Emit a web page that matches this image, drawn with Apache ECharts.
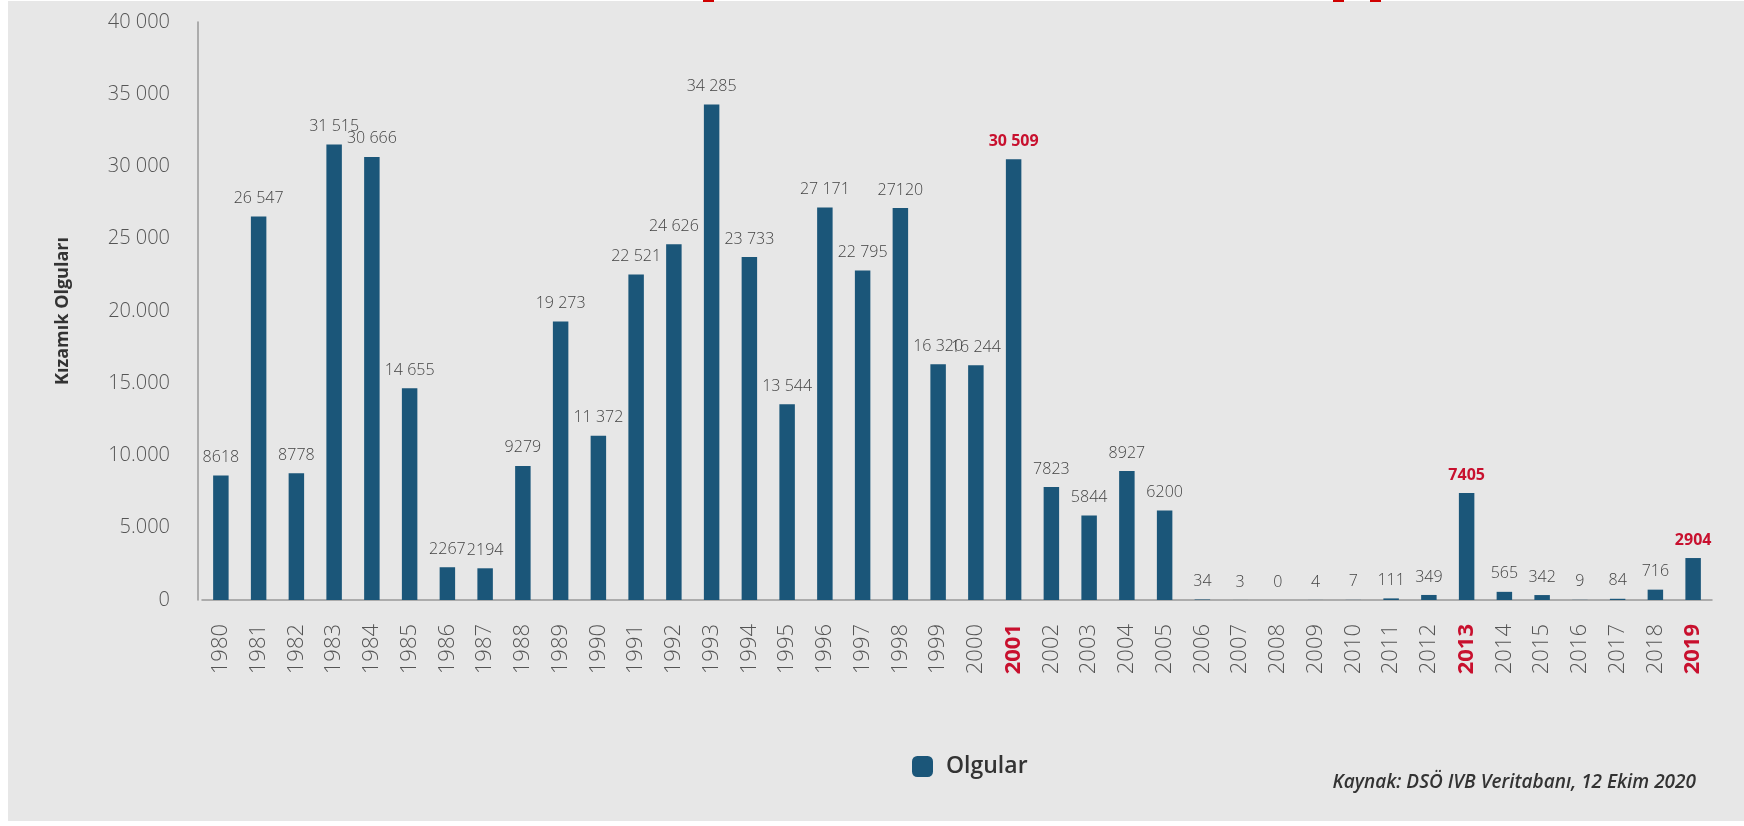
<!DOCTYPE html>
<html><head><meta charset="utf-8">
<script src="https://cdn.jsdelivr.net/npm/echarts@6/dist/echarts.min.js"></script>
<style>html,body{margin:0;padding:0;background:#fff}#c{width:1744px;height:826px}</style>
</head><body><div id="c"></div>
<script>
const years = ['1980','1981','1982','1983','1984','1985','1986','1987','1988','1989','1990','1991','1992','1993','1994','1995','1996','1997','1998','1999','2000','2001','2002','2003','2004','2005','2006','2007','2008','2009','2010','2011','2012','2013','2014','2015','2016','2017','2018','2019'];
const cases = [8618,26547,8778,31515,30666,14655,2267,2194,9279,19273,11372,22521,24626,34285,23733,13544,27171,22795,27120,16320,16244,30509,7823,5844,8927,6200,34,3,0,4,7,111,349,7405,565,342,9,84,716,2904];
const valueLabels = ['8618','26 547','8778','31 515','30 666','14 655','2267','2194','9279','19 273','11 372','22 521','24 626','34 285','23 733','13 544','27 171','22 795','27120','16 320','16 244','30 509','7823','5844','8927','6200','34','3','0','4','7','111','349','7405','565','342','9','84','716','2904'];
const highlightYears = ['2001','2013','2019'];
const yTickLabels = {0:'0',5000:'5.000',10000:'10.000',15000:'15.000',20000:'20.000',25000:'25 000',30000:'30 000',35000:'35 000',40000:'40 000'};

const RED = '#c8102e';
const BAR = '#1b5679';
const chart = echarts.init(document.getElementById('c'));
chart.setOption({
  backgroundColor: '#fff',
  graphic: [
    {type:'rect', shape:{x:8,y:1,width:1736,height:820}, style:{fill:'#e7e7e7'}, z:-10},
    {type:'rect', shape:{x:703,y:0,width:11,height:2}, style:{fill:'#d00000'}},
    {type:'rect', shape:{x:1333,y:0,width:11,height:2}, style:{fill:'#d00000'}},
    {type:'rect', shape:{x:1370,y:0,width:11,height:2}, style:{fill:'#d00000'}},
    {type:'text', right:48, top:773, style:{text:'Kaynak: DSÖ IVB Veritabanı, 12 Ekim 2020', font:'italic 600 19px "Open Sans"', fill:'#333'}}
  ],
  legend: {
    data:['Olgular'], left:907, top:750, itemWidth:21, itemHeight:21, icon:'roundRect', itemGap:10,
    textStyle:{fontFamily:'Open Sans', fontWeight:600, fontSize:23, color:'#333', padding:[0,0,0,8]}
  },
  grid: {left:202, right:32, top:22, bottom:226, containLabel:false},
  xAxis: {
    type:'category', data: years,
    axisLine:{lineStyle:{color:'#999', width:1.5}},
    axisTick:{alignWithLabel:true, length:18, lineStyle:{color:'#aaa'}},
    axisLabel:{
      rotate:90, margin:24, fontFamily:'Open Sans', fontSize:22, color:'#555', fontWeight:300,
      formatter: v => highlightYears.includes(v) ? '{r|' + v + '}' : v,
      rich:{r:{color:RED, fontWeight:'bold', fontSize:22, fontFamily:'Open Sans'}}
    }
  },
  yAxis: {
    type:'value', min:0, max:40000, interval:5000, offset:4,
    name:'Kızamık Olguları', nameLocation:'middle', nameGap:126, nameRotate:90,
    nameTextStyle:{fontFamily:'Open Sans', fontWeight:'bold', fontSize:18, color:'#333'},
    axisLine:{show:true, lineStyle:{color:'#999', width:1.5}},
    axisTick:{show:false},
    splitLine:{show:false},
    axisLabel:{margin:28, fontFamily:'Open Sans', fontSize:20, color:'#555', fontWeight:300, formatter: v => yTickLabels[v]}
  },
  series: [{
    name:'Olgular', type:'bar', barWidth:'41%',
    itemStyle:{color:BAR},
    data: cases.map((v,i) => ({value:v, label: highlightYears.includes(years[i]) ? {color:RED, fontWeight:'bold'} : {}})),
    label:{
      show:true, position:'top', distance:10, fontFamily:'Open Sans', fontSize:16, color:'#444', fontWeight:300,
      formatter: p => valueLabels[p.dataIndex]
    }
  }]
});
</script></body></html>
